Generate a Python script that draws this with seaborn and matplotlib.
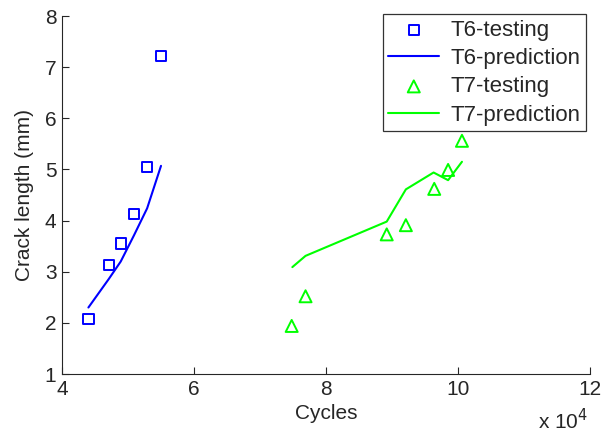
import matplotlib
matplotlib.use("Agg")
import matplotlib.pyplot as plt
import seaborn as sns
import pandas as pd
from matplotlib.ticker import FuncFormatter, FixedLocator

# Crack growth measurements and model predictions for two specimens
t6_cycles = [44000, 47100, 48900, 50900, 52900, 55000]
t6_test = [2.07, 3.13, 3.55, 4.13, 5.05, 7.22]
t6_pred_cycles = [44000, 47100, 48900, 50900, 52900, 55000]
t6_pred = [2.30, 2.86, 3.20, 3.71, 4.24, 5.07]

t7_cycles = [74800, 76900, 89200, 92100, 96400, 98500, 100600]
t7_test = [1.94, 2.52, 3.73, 3.91, 4.62, 4.99, 5.56]
t7_pred_cycles = [74900, 76900, 89200, 92100, 96300, 98500, 100600]
t7_pred = [3.09, 3.31, 3.98, 4.61, 4.94, 4.79, 5.15]

x_ticks = [40000, 60000, 80000, 100000, 120000]
y_ticks = [1, 2, 3, 4, 5, 6, 7, 8]

sns.set_theme(style="white")
plt.rcParams["font.family"] = ["Liberation Sans", "DejaVu Sans"]

fig = plt.figure(figsize=(6.03, 4.36), dpi=100)
ax = fig.add_axes([62 / 603, 1 - 374 / 436, (590 - 62) / 603, (374 - 16) / 436])

blue = (0, 0, 1)
green = (0, 1, 0)

t6_df = pd.DataFrame({"cycles": t6_cycles, "crack": t6_test})
t6_pred_df = pd.DataFrame({"cycles": t6_pred_cycles, "crack": t6_pred})
t7_df = pd.DataFrame({"cycles": t7_cycles, "crack": t7_test})
t7_pred_df = pd.DataFrame({"cycles": t7_pred_cycles, "crack": t7_pred})

sns.scatterplot(data=t6_df, x="cycles", y="crack", ax=ax, marker="s", s=55,
                facecolor="none", edgecolor=blue, linewidth=1.4, label="T6-testing")
sns.lineplot(data=t6_pred_df, x="cycles", y="crack", ax=ax, sort=False,
             color=blue, linewidth=1.5, label="T6-prediction")
sns.scatterplot(data=t7_df, x="cycles", y="crack", ax=ax, marker="^", s=75,
                facecolor="none", edgecolor=green, linewidth=1.4, label="T7-testing")
sns.lineplot(data=t7_pred_df, x="cycles", y="crack", ax=ax, sort=False,
             color=green, linewidth=1.5, label="T7-prediction")

ax.set_xlim(40000, 120000)
ax.set_ylim(1, 8)
ax.xaxis.set_major_locator(FixedLocator(x_ticks))
ax.yaxis.set_major_locator(FixedLocator(y_ticks))
ax.xaxis.set_major_formatter(FuncFormatter(lambda v, p: f"{v / 1e4:g}"))
ax.yaxis.set_major_formatter(FuncFormatter(lambda v, p: f"{v:g}"))

for side in ["top", "right"]:
    ax.spines[side].set_visible(False)
for side in ["left", "bottom"]:
    ax.spines[side].set_color("#262626")
    ax.spines[side].set_linewidth(0.8)

ax.tick_params(direction="in", length=5, width=0.8, color="#262626",
               labelsize=15, pad=4, left=True, bottom=True)
ax.set_xlabel("Cycles", fontsize=15, labelpad=4)
ax.set_ylabel("Crack length (mm)", fontsize=15, labelpad=8)

fig.text(563 / 603, 1 - 421 / 436, r"x 10$^4$", fontsize=15, ha="center", va="center")

leg = ax.legend(loc="upper right", bbox_to_anchor=(586 / 603, 1 - 14 / 436),
                bbox_transform=fig.transFigure, borderaxespad=0, fontsize=16,
                frameon=True, fancybox=False, handlelength=2.3, handletextpad=0.5,
                labelspacing=0.33, borderpad=0.25)
leg.get_frame().set_edgecolor("black")
leg.get_frame().set_linewidth(0.9)

fig.savefig("out.png", dpi=100)
